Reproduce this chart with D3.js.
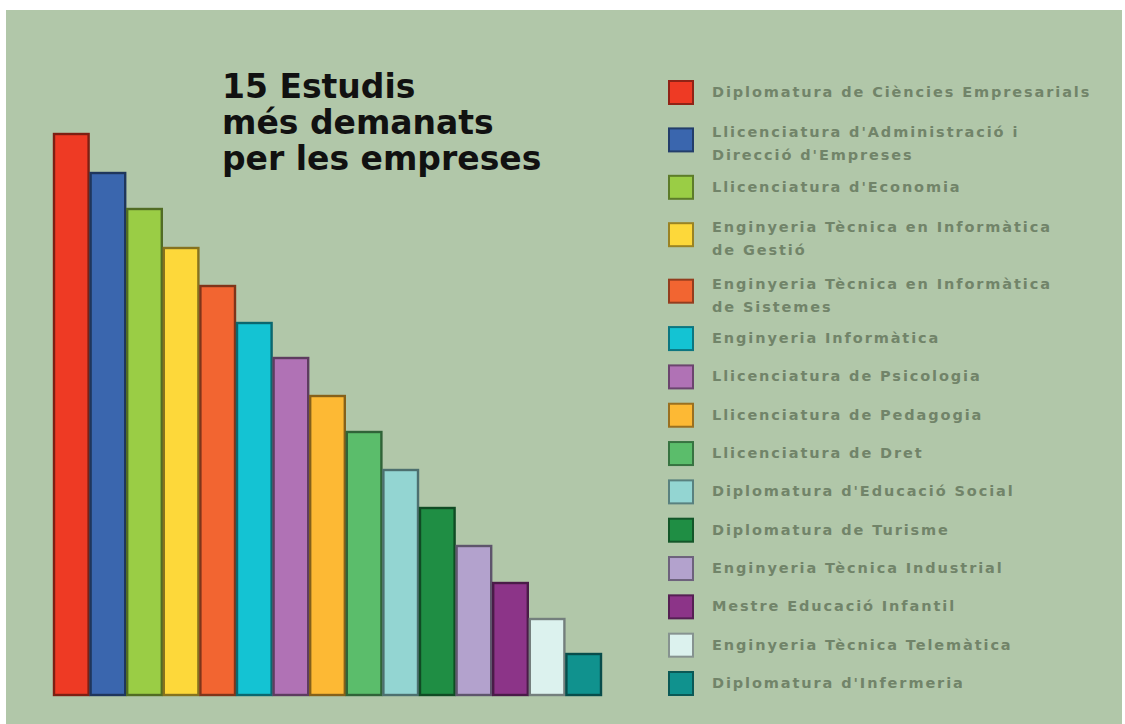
<!DOCTYPE html>
<html>
<head>
<meta charset="utf-8">
<script src="https://cdn.jsdelivr.net/npm/d3@7"></script>
<style>
  body { margin: 0; background: #fff; }
</style>
</head>
<body>
<div id="chart"></div>
<script>
// the 15 studies, in ranking order (bar heights, relative units)
const studies = [
    ["Diplomatura de Ciències Empresarials"],
    ["Llicenciatura d'Administració i", "Direcció d'Empreses"],
    ["Llicenciatura d'Economia"],
    ["Enginyeria Tècnica en Informàtica", "de Gestió"],
    ["Enginyeria Tècnica en Informàtica", "de Sistemes"],
    ["Enginyeria Informàtica"],
    ["Llicenciatura de Psicologia"],
    ["Llicenciatura de Pedagogia"],
    ["Llicenciatura de Dret"],
    ["Diplomatura d'Educació Social"],
    ["Diplomatura de Turisme"],
    ["Enginyeria Tècnica Industrial"],
    ["Mestre Educació Infantil"],
    ["Enginyeria Tècnica Telemàtica"],
    ["Diplomatura d'Infermeria"]
];
const values = [562, 523, 487, 448, 410, 373, 338, 300, 264, 226, 188, 150, 113, 77, 42];
const colors = ["#ee3a24", "#3a66ae", "#9acd45", "#fdd83a", "#f26531",
                "#14c3d3", "#b072b5", "#fdb934", "#5bbd6b", "#93d5d2",
                "#1f8e44", "#b3a2cd", "#8c3488", "#dcf2ee", "#10928e"];
const title = ["15 Estudis", "més demanats", "per les empreses"];

(function() {
    const width = 1125;
    const height = 724;

    const svg = d3.select("#chart").append("svg")
        .attr("width", width)
        .attr("height", height);

    // green panel
    svg.append("rect")
        .attr("x", 6).attr("y", 10)
        .attr("width", width - 9).attr("height", height - 10)
        .attr("fill", "#b1c7a9");

    const x = d3.scaleBand()
        .domain(d3.range(values.length))
        .range([53, 602])
        .padding(0);

    const y = d3.scaleLinear()
        .domain([0, d3.max(values)])
        .range([695, 133]);

    svg.append("g")
        .selectAll("rect")
        .data(values)
        .enter()
        .append("rect")
        .attr("x", (d, i) => x(i) + 1)
        .attr("y", d => y(d) + 1)
        .attr("width", x.bandwidth() - 2)
        .attr("height", d => y(0) - y(d) - 1)
        .attr("fill", (d, i) => colors[i])
        .attr("stroke", (d, i) => d3.color(colors[i]).darker(1.8))
        .attr("stroke-width", 2.4);

    // title, one text per line
    svg.append("g")
        .selectAll("text")
        .data(title)
        .enter()
        .append("text")
        .attr("x", 222)
        .attr("y", (d, i) => 98 + i * 36)
        .attr("font-family", "DejaVu Sans, sans-serif")
        .attr("font-weight", "bold")
        .attr("font-size", 33)
        .attr("fill", "#111")
        .text(d => d);

    // legend: two-line rows take a bit more room
    let acc = 0;
    const offsets = studies.map((d, i) => {
        if (i > 0) acc += 38 + 9 * (studies[i-1].length - 1) + 9 * (d.length - 1);
        return acc;
    });
    const ly = d3.scaleLinear()
        .domain([0, acc])
        .range([92, 683]);

    const items = svg.append("g")
        .selectAll("g")
        .data(studies)
        .enter()
        .append("g")
        .attr("transform", (d, i) => "translate(668," + ly(offsets[i]) + ")");

    items.append("rect")
        .attr("x", 1).attr("y", -11)
        .attr("width", 24).attr("height", 23)
        .attr("fill", (d, i) => colors[i])
        .attr("stroke", (d, i) => d3.color(colors[i]).darker(1.4))
        .attr("stroke-width", 2);

    items.append("text")
        .attr("font-family", "DejaVu Sans, sans-serif")
        .attr("font-weight", "bold")
        .attr("font-size", 14.5)
        .attr("letter-spacing", 1.9)
        .attr("fill", "#718469")
        .selectAll("tspan")
        .data(d => d.map((t, k) => ({t: t, k: k, n: d.length})))
        .enter()
        .append("tspan")
        .attr("x", 44)
        .attr("y", d => d.n == 1 ? 5 : (d.k == 0 ? -2 : 21))
        .text(d => d.t);
})();
</script>
</body>
</html>
